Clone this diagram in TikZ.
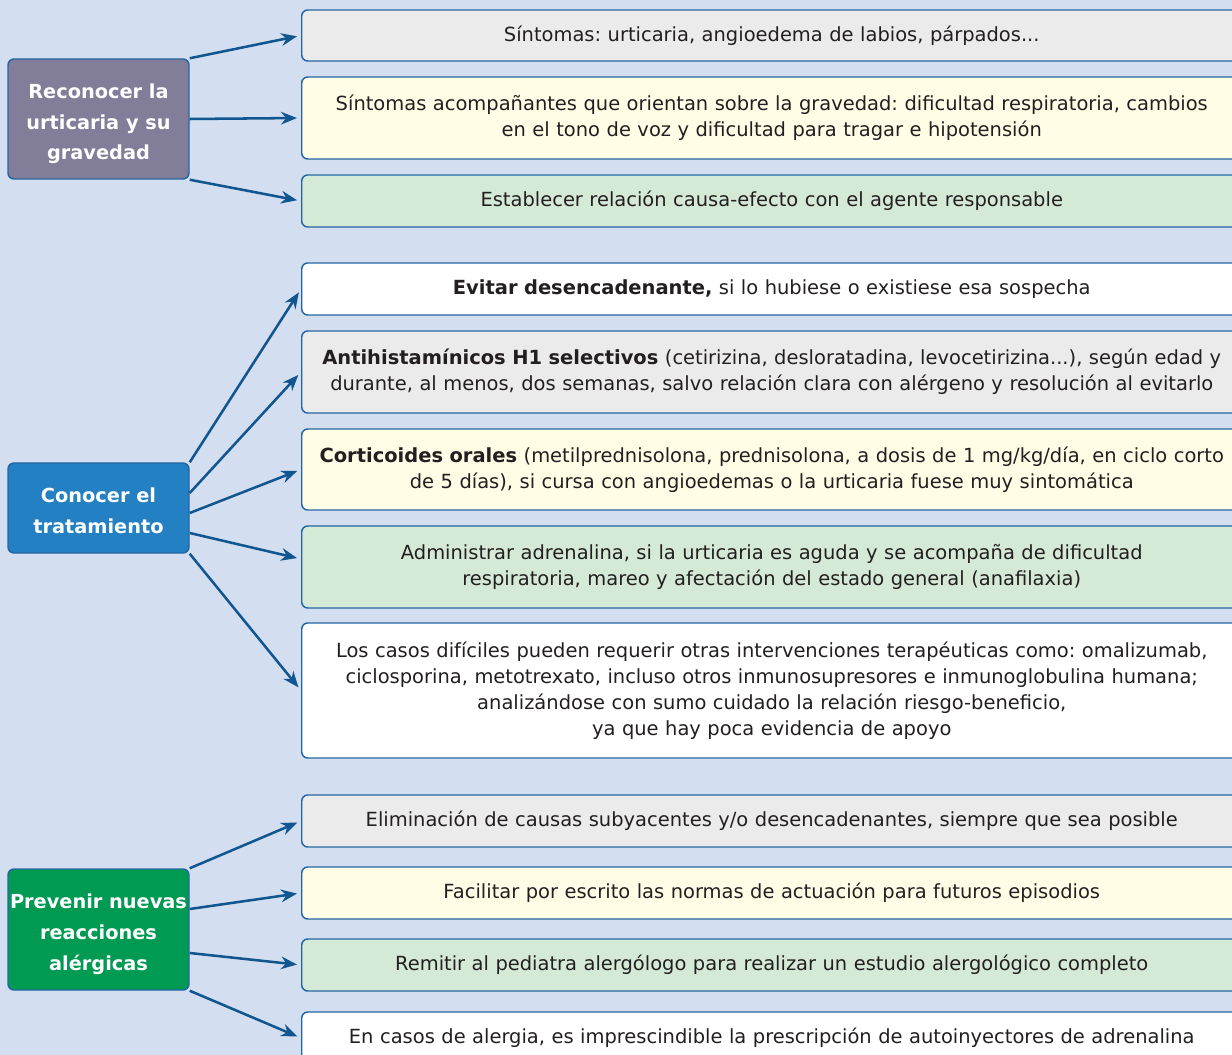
\documentclass[tikz,border=0pt]{standalone}
\usepackage{fontspec}
\setmainfont{DejaVu Sans}
\frenchspacing
\usetikzlibrary{arrows.meta, calc}
\definecolor{bgblue}{HTML}{D3DEF0}
\definecolor{edgeblue}{HTML}{2466A3}
\definecolor{arrowblue}{HTML}{12568F}
\definecolor{recfill}{HTML}{827D99}
\definecolor{tratfill}{HTML}{2280C3}
\definecolor{prevfill}{HTML}{009A52}
\definecolor{greyfill}{HTML}{EBEBEB}
\definecolor{yellowfill}{HTML}{FFFDE6}
\definecolor{greenfill}{HTML}{D5EAD6}
\definecolor{txt}{HTML}{231F20}
\newcommand{\topictext}[1]{\raisebox{-3pt}[\height][\depth]{\begin{tabular}{@{}c@{}}#1\end{tabular}}}

\begin{document}
\begin{tikzpicture}[x=0.75pt,y=-0.75pt,
  topic/.style={draw=edgeblue, line width=1.1pt, rounded corners=4.5pt,
    minimum width=135.75pt, text=white, inner sep=0pt,
    font=\bfseries\fontsize{14.5}{23}\selectfont},
  item/.style={draw=edgeblue, line width=1.1pt, rounded corners=4.5pt,
    anchor=west, text width=690pt, inner xsep=7.5pt, inner ysep=0pt,
    align=center, text=txt, font=\fontsize{14.6}{19.5}\selectfont},
  link/.style={-{Stealth[length=12pt,width=9.5pt]}, line width=1.9pt,
    draw=arrowblue, shorten >=3pt}]
\useasboundingbox (0,0) rectangle (1232,1055);
\fill[bgblue] (0,0) rectangle (1232,1055);
\clip (0,0) rectangle (1232,1055);
% Left boxes
\node[topic, fill=recfill, minimum height=90pt] (rec) at (98.5,119)
  {\topictext{Reconocer la\\urticaria y su\\gravedad}};
\node[topic, fill=tratfill, minimum height=67.5pt] (trat) at (98.5,508)
  {\topictext{Conocer el\\tratamiento}};
\node[topic, fill=prevfill, minimum height=90.75pt] (prev) at (98.5,929.5)
  {\topictext{Prevenir nuevas\\reacciones\\alérgicas}};
% Right boxes, first block
\node[item, fill=greyfill, minimum height=38.25pt] (sint) at (301,35.5)
  {Síntomas: urticaria, angioedema de labios, párpados...};
\node[item, fill=yellowfill, minimum height=61.5pt] (grav) at (301,118)
  {Síntomas acompañantes que orientan sobre la gravedad: dificultad respiratoria, cambios\\
   en el tono de voz y dificultad para tragar e hipotensión};
\node[item, fill=greenfill, minimum height=39pt] (causa) at (301,201)
  {Establecer relación causa-efecto con el agente responsable};
% Second block
\node[item, fill=white, minimum height=39pt] (evit) at (301,289)
  {\textbf{Evitar desencadenante,} si lo hubiese o existiese esa sospecha};
\node[item, fill=greyfill, minimum height=61.5pt] (anti) at (301,372)
  {\textbf{Antihistamínicos H1 selectivos} (cetirizina, desloratadina, levocetirizina...), según edad y\\
   durante, al menos, dos semanas, salvo relación clara con alérgeno y resolución al evitarlo};
\node[item, fill=yellowfill, minimum height=60.75pt] (cort) at (301,469.5)
  {\textbf{Corticoides orales} (metilprednisolona, prednisolona, a dosis de 1 mg/kg/día, en ciclo corto\\
   de 5 días), si cursa con angioedemas o la urticaria fuese muy sintomática};
\node[item, fill=greenfill, minimum height=61.5pt] (adre) at (301,567)
  {Administrar adrenalina, si la urticaria es aguda y se acompaña de dificultad\\
   respiratoria, mareo y afectación del estado general (anafilaxia)};
\node[item, fill=white, minimum height=101.25pt] (dific) at (301,690.5)
  {Los casos difíciles pueden requerir otras intervenciones terapéuticas como: omalizumab,\\
   ciclosporina, metotrexato, incluso otros inmunosupresores e inmunoglobulina humana;\\
   analizándose con sumo cuidado la relación riesgo-beneficio,\\
   ya que hay poca evidencia de apoyo};
% Third block
\node[item, fill=greyfill, minimum height=39pt] (elim) at (301,821)
  {Eliminación de causas subyacentes y/o desencadenantes, siempre que sea posible};
\node[item, fill=yellowfill, minimum height=39pt] (norm) at (301,893)
  {Facilitar por escrito las normas de actuación para futuros episodios};
\node[item, fill=greenfill, minimum height=39pt] (remit) at (301,965)
  {Remitir al pediatra alergólogo para realizar un estudio alergológico completo};
\node[item, fill=white, minimum height=39pt] (autoi) at (301,1038)
  {En casos de alergia, es imprescindible la prescripción de autoinyectores de adrenalina};
% Arrows
\draw[link] (rec.north east) -- (sint.west);
\draw[link] (rec.east) -- (grav.west);
\draw[link] (rec.south east) -- (causa.west);
\draw[link] (trat.north east) -- (evit.west);
\draw[link] ($(trat.east)+(0,-15)$) -- (anti.west);
\draw[link] ($(trat.east)+(0,5)$) -- (cort.west);
\draw[link] ($(trat.east)+(0,25)$) -- ([yshift=6pt]adre.west);
\draw[link] (trat.south east) -- (dific.west);
\draw[link] (prev.north east) -- (elim.west);
\draw[link] ($(prev.east)+(0,-20.5)$) -- (norm.west);
\draw[link] ($(prev.east)+(0,23.5)$) -- (remit.west);
\draw[link] (prev.south east) -- (autoi.west);
\end{tikzpicture}
\end{document}
